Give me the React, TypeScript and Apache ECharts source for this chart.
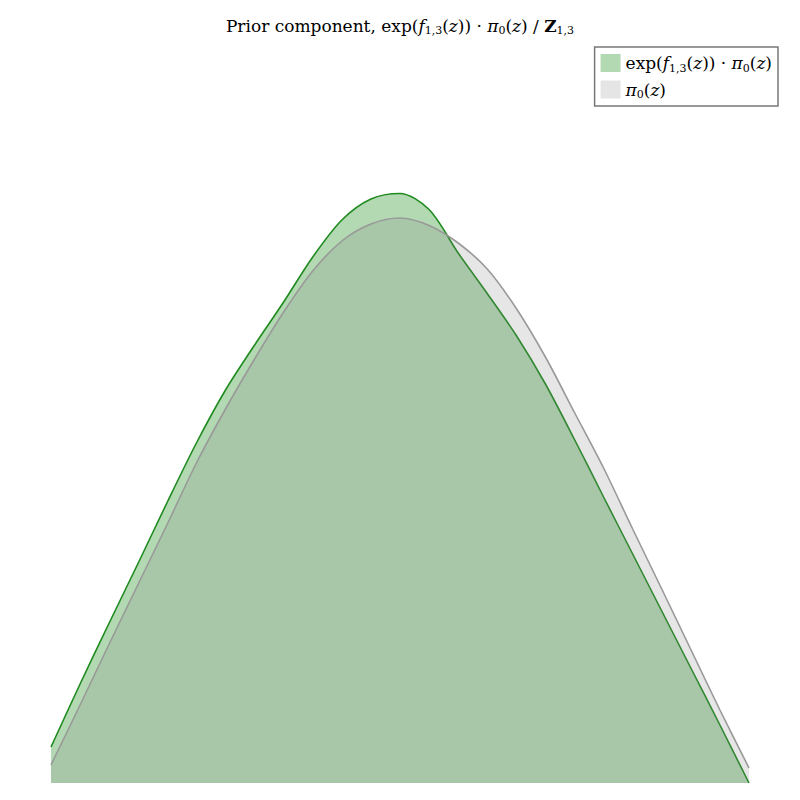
import React, { useEffect, useRef } from "react";
import * as echarts from "echarts";

// z grid (hidden axis)
const zValues = [
  -3, -2.75, -2.5, -2.25, -2, -1.75, -1.5, -1.25, -1, -0.75, -0.5, -0.25, 0,
  0.25, 0.5, 0.75, 1, 1.25, 1.5, 1.75, 2, 2.25, 2.5, 2.75, 3,
];

// pi_0(z)
const priorDensity = [
  0.018, 0.078, 0.139, 0.199, 0.259, 0.32, 0.374, 0.424, 0.471, 0.512, 0.542,
  0.559, 0.565, 0.5575, 0.54, 0.514, 0.4745, 0.426, 0.3705, 0.315, 0.254, 0.194,
  0.1335, 0.073, 0.015,
];

// exp(f_{1,3}(z)) * pi_0(z)
const componentDensity = [
  0.036, 0.099, 0.16, 0.22, 0.281, 0.34, 0.393, 0.438, 0.481, 0.526, 0.563,
  0.584, 0.5895, 0.5735, 0.53, 0.4895, 0.4475, 0.399, 0.3435, 0.286, 0.229,
  0.172, 0.115, 0.058, 0.0,
];

const compName = "exp(f1,3(z)) · π0(z)";
const priorName = "π0(z)";

const SERIF = "'DejaVu Serif', 'Liberation Serif', serif";

export default function App() {
  const ref = useRef<HTMLDivElement>(null);

  useEffect(() => {
    if (!ref.current) return;
    const chart = echarts.init(ref.current, undefined, { renderer: "svg" });

    const compData = zValues.map((z, i) => [z, componentDensity[i]]);
    const priorData = zValues.map((z, i) => [z, priorDensity[i]]);

    const rich = (size: number) => ({
      n: { fontFamily: SERIF, fontSize: size, color: "#000", lineHeight: size + 4 },
      i: { fontFamily: SERIF, fontSize: size, fontStyle: "italic", color: "#000", lineHeight: size + 4 },
      b: { fontFamily: SERIF, fontSize: size, fontWeight: "bold", color: "#000", lineHeight: size + 4 },
      s: {
        fontFamily: SERIF,
        fontSize: Math.round(size * 0.66),
        color: "#000",
        verticalAlign: "bottom",
        lineHeight: size - 3,
      },
    });

    chart.setOption({
      animation: false,
      backgroundColor: "#fff",
      title: {
        left: "center",
        top: 10,
        text:
          "{n|Prior component, exp(}{i|f}{s|1,3}{n|(}{i|z}{n|)) · }{i|π}{s|0}{n|(}{i|z}{n|) / }{b|Z}{s|1,3}",
        textStyle: {
          fontFamily: SERIF,
          fontSize: 17,
          fontWeight: "normal",
          color: "#000",
          rich: rich(17),
        },
      },
      legend: {
        orient: "vertical",
        right: 22,
        top: 47,
        icon: "rect",
        itemWidth: 20,
        itemHeight: 18,
        itemGap: 7,
        padding: [7, 6, 6, 6],
        borderColor: "#777",
        borderWidth: 1.5,
        backgroundColor: "#fff",
        borderRadius: 0,
        data: [
          { name: compName, itemStyle: { color: "#b3d9b3", borderWidth: 0 } },
          { name: priorName, itemStyle: { color: "#e5e5e5", borderWidth: 0 } },
        ],
        formatter: (name: string) =>
          name === compName
            ? "{n|exp(}{i|f}{s|1,3}{n|(}{i|z}{n|)) · }{i|π}{s|0}{n|(}{i|z}{n|)}"
            : "{i|π}{s|0}{n|(}{i|z}{n|)}",
        textStyle: {
          fontFamily: SERIF,
          fontSize: 17,
          color: "#000",
          rich: rich(17),
        },
      },
      grid: { left: 51, right: 51, top: 83, bottom: 17 },
      xAxis: {
        type: "value",
        min: -3,
        max: 3,
        show: false,
      },
      yAxis: {
        type: "value",
        min: 0,
        max: 0.7,
        show: false,
      },
      series: [
        {
          name: compName,
          type: "line",
          data: compData,
          smooth: 0.3,
          showSymbol: false,
          symbol: "none",
          itemStyle: { color: "#b3d9b3" },
          lineStyle: { color: "#1f8a1f", width: 1.6 },
          areaStyle: { color: "rgba(0,128,0,0.3)", opacity: 1 },
          z: 2,
        },
        {
          name: priorName,
          type: "line",
          data: priorData,
          smooth: 0.3,
          showSymbol: false,
          symbol: "none",
          itemStyle: { color: "#e5e5e5" },
          lineStyle: { color: "#999999", width: 1.6 },
          areaStyle: { color: "rgba(128,128,128,0.2)", opacity: 1 },
          z: 3,
        },
      ],
    });

    return () => chart.dispose();
  }, []);

  return (
    <div
      ref={ref}
      style={{ position: "fixed", left: 0, top: 0, width: 800, height: 800 }}
    />
  );
}
